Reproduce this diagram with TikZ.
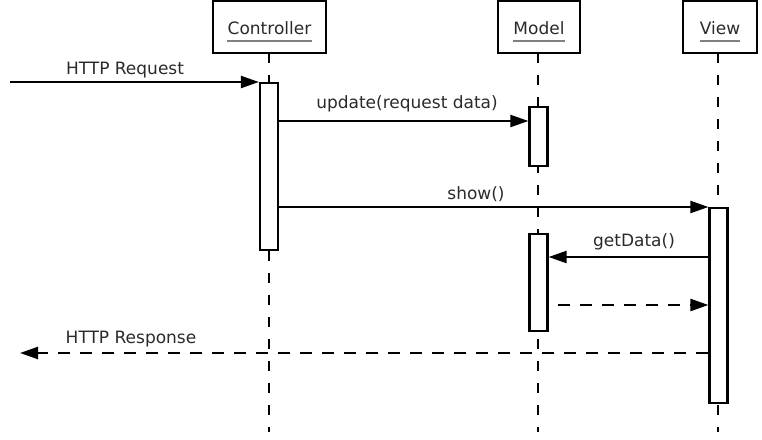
\documentclass[tikz,border=0pt]{standalone}
\usepackage{fontspec}
\setmainfont{DejaVu Sans}
\usetikzlibrary{arrows.meta}
\definecolor{txt}{HTML}{2A2A2A}
\definecolor{uline}{HTML}{808080}
\tikzset{
  hdr/.style={draw, line width=2.8pt, fill=white, inner sep=0pt},
  act/.style={draw, line width=2.2pt, fill=white, inner sep=0pt, minimum width=18pt, anchor=north},
  life/.style={line width=1.4pt, dash pattern=on 10pt off 12pt},
  msg/.style={line width=2.2pt, -{Triangle[length=18pt,width=12pt]}},
  ret/.style={line width=2.4pt, dash pattern=on 12pt off 10pt, -{Triangle[length=18pt,width=12pt]}},
  lbl/.style={text=txt, font=\fontsize{17}{19}\selectfont, inner sep=0pt, anchor=base},
  hlbl/.style={text=txt, font=\fontsize{17}{19}\selectfont, inner sep=0pt, anchor=base},
  ul/.style={uline, line width=2.6pt}
}
\begin{document}
\begin{tikzpicture}[x=1pt,y=-1pt]
\useasboundingbox (0,0) rectangle (762,439);
% lifelines
\draw[life] (269,53) -- (269,432);
\draw[life] (538,53) -- (538,432);
\draw[life] (718,53) -- (718,432);
% headers
\draw[hdr] (213,1) rectangle (326,53);
\node[hlbl] (hc) at (269.5,34) {Controller};
\draw[ul] ([yshift=-7pt]hc.base west) -- ([yshift=-7pt]hc.base east);
\draw[hdr] (498,1) rectangle (580,53);
\node[hlbl] (hm) at (539,34) {Model};
\draw[ul] ([yshift=-7pt]hm.base west) -- ([yshift=-7pt]hm.base east);
\draw[hdr] (683,1) rectangle (757,53);
\node[hlbl] (hv) at (720,34) {View};
\draw[ul] ([yshift=-7pt]hv.base west) -- ([yshift=-7pt]hv.base east);
% activations
\node[act, minimum height=167pt] (ca) at (269,82) {};
\node[act, minimum height=59pt] (ma1) at (538.5,106) {};
\node[act, minimum height=97pt] (ma2) at (538.5,233) {};
\node[act, minimum height=195pt] (va) at (718.5,207) {};
\coordinate (in) at (10,82);
\coordinate (out) at (20,353);
% messages
\draw[msg] (in) -- (ca.north west);
\node[lbl] at (125,74) {HTTP Request};
\draw[msg] (ca.east |- 0,121) -- (ma1.west |- 0,121);
\node[lbl] at (407,108) {update(request data)};
\draw[msg] (ca.east |- 0,207) -- (va.north west);
\node[lbl] at (476,199) {show()};
\draw[msg] (va.west |- 0,257) -- (ma2.east |- 0,257);
\node[lbl] at (634,246) {getData()};
\draw[ret] (558,305) -- (va.west |- 0,305);
\draw[ret] (va.west |- 0,353) -- (out);
\node[lbl] at (131,343) {HTTP Response};
\end{tikzpicture}
\end{document}
